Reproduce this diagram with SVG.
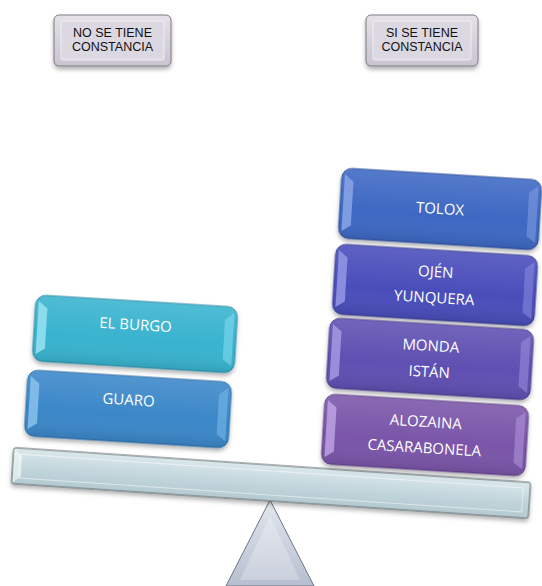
<svg xmlns="http://www.w3.org/2000/svg" width="542" height="586" viewBox="0 0 542 586">
<style>
.lbl{font-family:"Open Sans","Liberation Sans",sans-serif;font-size:15px;fill:#fff;text-anchor:middle}
.top{font-family:"Liberation Sans","DejaVu Sans",sans-serif;font-size:12.5px;fill:#111;text-anchor:middle}
.gl{fill:url(#gGloss)}
.box{filter:url(#ds)}
</style>
<defs>
<linearGradient id="gTop" x1="0" y1="0" x2="0" y2="1"><stop offset="0" stop-color="#e4e1e8"/><stop offset="1" stop-color="#c9c4d0"/></linearGradient>
<linearGradient id="gBeam" x1="0" y1="0" x2="0" y2="1"><stop offset="0" stop-color="#dbe8ec"/><stop offset="0.5" stop-color="#c3d7dd"/><stop offset="1" stop-color="#b4cad1"/></linearGradient>
<linearGradient id="gTri" x1="0" y1="0" x2="0" y2="1"><stop offset="0" stop-color="#e2e6ee"/><stop offset="1" stop-color="#b6bfcf"/></linearGradient>
<linearGradient id="gGloss" x1="0" y1="0" x2="0" y2="1"><stop offset="0" stop-color="#fff" stop-opacity="0.12"/><stop offset="0.6" stop-color="#fff" stop-opacity="0"/><stop offset="1" stop-color="#000" stop-opacity="0.1"/></linearGradient>
<filter id="ds" x="-10%" y="-20%" width="120%" height="150%"><feDropShadow dx="0" dy="3" stdDeviation="2" flood-color="#000" flood-opacity="0.3"/></filter>
</defs>

<g id="fulcrum">
<polygon points="270,500 226,586 314,586" fill="url(#gTri)" stroke="#6f7580" stroke-width="1"/>
<polygon points="270,516 240,580 300,580" fill="#fff" opacity="0.25"/>
</g>

<g id="beam" transform="translate(271,483) rotate(3.85)">
<rect x="-259" y="-18" width="518" height="36" rx="2" fill="url(#gBeam)" stroke="#5e6669" stroke-width="1" class="box"/>
<rect x="-252" y="-12" width="504" height="24" fill="none" stroke="#ffffff" stroke-opacity="0.5"/>
<polygon points="-258,-17 -250,-10 -250,10 -258,17" fill="#fff" opacity="0.5"/>
</g>

<g id="no-constancia">
<rect x="54" y="15" width="117" height="51" rx="5" fill="url(#gTop)" stroke="#7f7a86" stroke-width="1" class="box"/>
<rect x="61" y="21" width="103" height="39" rx="2" fill="#dcd8e2" stroke="#fff" stroke-opacity="0.6"/>
<text class="top" x="112.5" y="37">NO SE TIENE</text>
<text class="top" x="112.5" y="51">CONSTANCIA</text>
</g>

<g id="si-constancia">
<rect x="366" y="15" width="112" height="51" rx="5" fill="url(#gTop)" stroke="#7f7a86" stroke-width="1" class="box"/>
<rect x="373" y="21" width="98" height="39" rx="2" fill="#dcd8e2" stroke="#fff" stroke-opacity="0.6"/>
<text class="top" x="422" y="37">SI SE TIENE</text>
<text class="top" x="422" y="51">CONSTANCIA</text>
</g>

<g id="el-burgo" transform="translate(135,334) rotate(3.5)">
<rect x="-101" y="-33" width="202" height="66" rx="10" fill="#37b3cf" stroke="#2a8aa3" stroke-width="1" class="box"/>
<rect x="-101" y="-33" width="202" height="66" rx="10" class="gl"/>
<polygon points="-98,-27 -89,-20 -89,20 -98,26" fill="#9de6f3" opacity="0.8"/>
<polygon points="98,-27 89,-20 89,20 98,26" fill="#7fd8ec" opacity="0.6"/>
<text class="lbl" x="0" y="-4">EL BURGO</text>
</g>

<g id="guaro" transform="translate(128,409) rotate(3.5)">
<rect x="-102" y="-33" width="204" height="66" rx="10" fill="#3a87c9" stroke="#2a6aa1" stroke-width="1" class="box"/>
<rect x="-102" y="-33" width="204" height="66" rx="10" class="gl"/>
<polygon points="-99,-27 -90,-20 -90,20 -99,26" fill="#8ec6ee" opacity="0.8"/>
<polygon points="99,-27 90,-20 90,20 99,26" fill="#76b8e8" opacity="0.6"/>
<text class="lbl" x="0" y="-4">GUARO</text>
</g>

<g id="tolox" transform="translate(440,209) rotate(3.5)">
<rect x="-100" y="-35" width="200" height="70" rx="10" fill="#3e67c3" stroke="#2d4c99" stroke-width="1" class="box"/>
<rect x="-100" y="-35" width="200" height="70" rx="10" class="gl"/>
<polygon points="-97,-29 -88,-22 -88,22 -97,28" fill="#8ea9ea" opacity="0.8"/>
<polygon points="97,-29 88,-22 88,22 97,28" fill="#7d99e0" opacity="0.6"/>
<text class="lbl" x="0" y="5">TOLOX</text>
</g>

<g id="ojen-yunquera" transform="translate(435,285) rotate(3.5)">
<rect x="-101" y="-35" width="202" height="70" rx="10" fill="#4a4eba" stroke="#373a8f" stroke-width="1" class="box"/>
<rect x="-101" y="-35" width="202" height="70" rx="10" class="gl"/>
<polygon points="-98,-29 -89,-22 -89,22 -98,28" fill="#9a9ce8" opacity="0.8"/>
<polygon points="98,-29 89,-22 89,22 98,28" fill="#8587dc" opacity="0.6"/>
<text class="lbl" x="0" y="-8">OJÉN</text>
<text class="lbl" x="0" y="18">YUNQUERA</text>
</g>

<g id="monda-istan" transform="translate(430,359) rotate(3.5)">
<rect x="-102" y="-35" width="204" height="70" rx="10" fill="#5e4fb2" stroke="#463b88" stroke-width="1" class="box"/>
<rect x="-102" y="-35" width="204" height="70" rx="10" class="gl"/>
<polygon points="-99,-29 -90,-22 -90,22 -99,28" fill="#a99de6" opacity="0.8"/>
<polygon points="99,-29 90,-22 90,22 99,28" fill="#978ada" opacity="0.6"/>
<text class="lbl" x="0" y="-8">MONDA</text>
<text class="lbl" x="0" y="18">ISTÁN</text>
</g>

<g id="alozaina-casarabonela" transform="translate(425,435) rotate(3.5)">
<rect x="-102" y="-35" width="204" height="70" rx="10" fill="#7a55a9" stroke="#5c3f82" stroke-width="1" class="box"/>
<rect x="-102" y="-35" width="204" height="70" rx="10" class="gl"/>
<polygon points="-99,-29 -90,-22 -90,22 -99,28" fill="#c2a6e6" opacity="0.8"/>
<polygon points="99,-29 90,-22 90,22 99,28" fill="#ae92d8" opacity="0.6"/>
<text class="lbl" x="0" y="-8">ALOZAINA</text>
<text class="lbl" x="0" y="18">CASARABONELA</text>
</g>

<g id="connectors"></g>
</svg>
